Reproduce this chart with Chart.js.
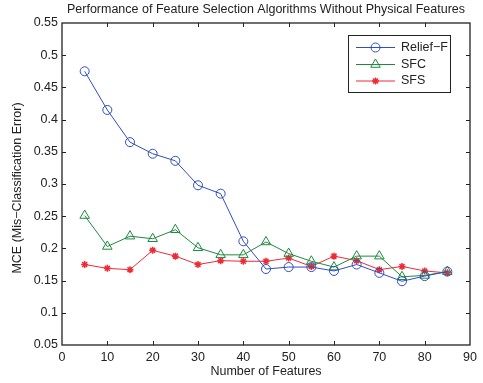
<!DOCTYPE html>
<html lang="en">
<head>
  <meta charset="UTF-8" />
  <title>Performance of Feature Selection Algorithms</title>
  <script src="https://cdn.jsdelivr.net/npm/chart.js"></script>
  <style>
    html, body { margin: 0; padding: 0; background: #fff; }
    #wrap { width: 483px; height: 383px; }
  </style>
</head>
<body>
  <div id="wrap"><canvas id="mceChart" width="483" height="383"></canvas></div>

  <script>
    // values
    const features = [5, 10, 15, 20, 25, 30, 35, 40, 45, 50, 55, 60, 65, 70, 75, 80, 85];
    const reliefF = [0.475, 0.415, 0.365, 0.347, 0.336, 0.298, 0.285, 0.211, 0.168, 0.171, 0.171, 0.165, 0.175, 0.162, 0.149, 0.157, 0.164];
    const sfc = [0.251, 0.203, 0.219, 0.215, 0.229, 0.201, 0.190, 0.190, 0.210, 0.192, 0.180, 0.171, 0.188, 0.188, 0.156, 0.158, 0.164];
    const sfs = [0.175, 0.169, 0.167, 0.197, 0.188, 0.175, 0.181, 0.180, 0.180, 0.185, 0.172, 0.188, 0.181, 0.167, 0.172, 0.165, 0.162];
    const xTicks = [0, 10, 20, 30, 40, 50, 60, 70, 80, 90];
    const yTicks = [0.05, 0.1, 0.15, 0.2, 0.25, 0.3, 0.35, 0.4, 0.45, 0.5, 0.55];

    const FONT = '"Liberation Sans", Arial, Helvetica, sans-serif';
    const FSIZE = 12.5;
    const toPoints = ys => features.map((x, i) => ({ x, y: ys[i] }));

    // MATLAB style frame: inward ticks on all four sides, legend, titles
    const matlabFrame = {
      id: 'matlabFrame',
      afterDraw(chart) {
        const { ctx, chartArea: a, scales } = chart;
        ctx.save();
        ctx.strokeStyle = '#222';
        ctx.lineWidth = 1.3;
        ctx.strokeRect(a.left, a.top, a.right - a.left, a.bottom - a.top);

        ctx.lineWidth = 1;
        ctx.beginPath();
        xTicks.slice(1, -1).forEach(v => {
          const px = Math.round(scales.x.getPixelForValue(v)) + 0.5;
          ctx.moveTo(px, a.bottom); ctx.lineTo(px, a.bottom - 4);
          ctx.moveTo(px, a.top); ctx.lineTo(px, a.top + 4);
        });
        yTicks.slice(1, -1).forEach(v => {
          const py = Math.round(scales.y.getPixelForValue(v)) + 0.5;
          ctx.moveTo(a.left, py); ctx.lineTo(a.left + 4, py);
          ctx.moveTo(a.right, py); ctx.lineTo(a.right - 4, py);
        });
        ctx.stroke();

        // titles
        ctx.fillStyle = '#222';
        ctx.font = FSIZE + 'px ' + FONT;
        ctx.textAlign = 'center';
        ctx.textBaseline = 'middle';
        const cx = (a.left + a.right) / 2;
        ctx.fillText('Performance of Feature Selection Algorithms Without Physical Features', cx, 10);
        ctx.fillText('Number of Features', cx, 372);
        ctx.save();
        ctx.translate(18, (a.top + a.bottom) / 2 + 4);
        ctx.rotate(-Math.PI / 2);
        ctx.fillText('MCE (Mis\u2212Classification Error)', 0, 0);
        ctx.restore();

        // legend box
        const bx = 348, by = 35, bw = 102, bh = 57;
        ctx.fillStyle = '#fff';
        ctx.fillRect(bx, by, bw, bh);
        ctx.strokeStyle = '#222';
        ctx.lineWidth = 1;
        ctx.strokeRect(bx + 0.5, by + 0.5, bw, bh);
        const rows = [47.5, 64.5, 81];
        chart.data.datasets.forEach((ds, i) => {
          const y = rows[i];
          ctx.strokeStyle = ds.borderColor;
          ctx.lineWidth = 1;
          ctx.beginPath();
          ctx.moveTo(356, y); ctx.lineTo(395, y);
          ctx.stroke();
          ctx.fillStyle = ds.pointBackgroundColor;
          ctx.strokeStyle = ds.borderColor;
          ctx.lineWidth = ds.pointBorderWidth;
          Chart.helpers.drawPoint(ctx, {
            pointStyle: ds.pointStyle, radius: ds.pointRadius, rotation: 0, borderWidth: ds.pointBorderWidth
          }, 375.5, y);
          ctx.fillStyle = '#222';
          ctx.textAlign = 'left';
          ctx.fillText(ds.label, 401, y);
        });
        ctx.restore();
      }
    };

    new Chart(document.getElementById('mceChart'), {
      type: 'line',
      data: {
        datasets: [
          {
            label: 'Relief\u2212F', data: toPoints(reliefF),
            borderColor: '#2f4fbf', pointBackgroundColor: 'rgba(0,0,0,0)',
            pointStyle: 'circle', pointRadius: 4.5, pointBorderWidth: 1
          },
          {
            label: 'SFC', data: toPoints(sfc),
            borderColor: '#1e8a3e', pointBackgroundColor: 'rgba(0,0,0,0)',
            pointStyle: 'triangle', pointRadius: 5.5, pointBorderWidth: 1
          },
          {
            label: 'SFS', data: toPoints(sfs),
            borderColor: '#ee2a35', pointBackgroundColor: '#ee2a35',
            pointStyle: 'star', pointRadius: 3.5, pointBorderWidth: 1.5
          }
        ].map(ds => Object.assign(ds, { borderWidth: 1, tension: 0, fill: false, pointHoverRadius: ds.pointRadius }))
      },
      options: {
        responsive: false,
        animation: false,
        layout: { padding: { top: 23, right: 13, left: 0, bottom: 0 } },
        plugins: { legend: { display: false }, tooltip: { enabled: false }, title: { display: false } },
        scales: {
          x: {
            type: 'linear', min: 0, max: 90,
            afterBuildTicks: s => { s.ticks = xTicks.map(v => ({ value: v })); },
            afterFit: s => { s.height = 38; },
            grid: { display: false, drawTicks: false },
            border: { display: false },
            ticks: { color: '#222', padding: 5, maxRotation: 0, font: { family: FONT, size: FSIZE } }
          },
          y: {
            min: 0.05, max: 0.55,
            afterBuildTicks: s => { s.ticks = yTicks.map(v => ({ value: v })); },
            afterFit: s => { s.width = 62; },
            grid: { display: false, drawTicks: false },
            border: { display: false },
            ticks: {
              color: '#222', padding: 4, font: { family: FONT, size: FSIZE },
              callback: v => String(Number(v.toFixed(2)))
            }
          }
        }
      },
      plugins: [matlabFrame]
    });
  </script>
</body>
</html>
